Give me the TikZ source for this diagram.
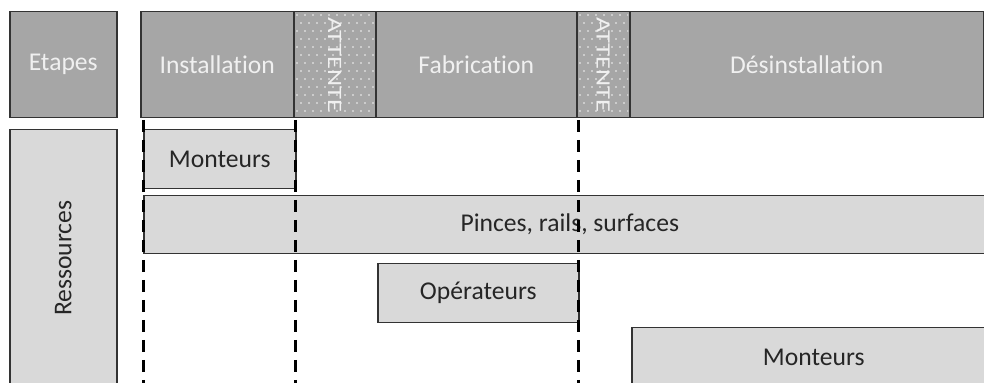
\documentclass[tikz,border=0pt]{standalone}
\usepackage{fontspec}
\setmainfont{Carlito}[Ligatures=NoCommon]
\usepackage{graphicx}
\definecolor{hdrfill}{HTML}{A6A6A6}
\definecolor{resfill}{HTML}{D9D9D9}
\definecolor{hdrtext}{HTML}{F0F0F0}
\definecolor{dotc}{HTML}{F4F4F4}
\definecolor{edge}{HTML}{333333}
\begin{document}
\begin{tikzpicture}[x=0.5pt,y=-0.5pt,
  hdr/.style={draw=edge, line width=0.75pt, fill=hdrfill, text=hdrtext, inner sep=0pt, anchor=north west, font=\fontsize{12.8pt}{15pt}\selectfont},
  res/.style={draw=edge, line width=0.75pt, fill=resfill, text=black!85, inner sep=0pt, anchor=north west, font=\fontsize{12.8pt}{15pt}\selectfont},
  att/.style={text=hdrtext, inner sep=0pt, rotate=-90, font=\fontsize{10.2pt}{12pt}\selectfont},
  guide/.style={line width=1.5pt, dash pattern=on 6pt off 4pt, dash phase=8.5pt}]
\useasboundingbox (0,0) rectangle (984,383);
% header row
\node[hdr, minimum width=53.5pt, minimum height=53pt] (etapes) at (9,11) {Etapes};
\node[hdr, minimum width=76.5pt, minimum height=53pt] (inst) at (140,11) {Installation};
\node[hdr, minimum width=41pt, minimum height=53pt] (att1) at (293,11) {};
\node[hdr, minimum width=100.5pt, minimum height=53pt] (fab) at (375,11) {Fabrication};
\node[hdr, minimum width=26.5pt, minimum height=53pt] (att2) at (576,11) {};
\node[hdr, minimum width=177pt, minimum height=53pt] (desi) at (629,11) {Désinstallation};
% dotted pattern in waiting cells
\begin{scope}
\clip (294,12) rectangle (374,116);
\foreach \r in {0,...,13}{
  \pgfmathsetmacro\off{mod(\r,2)*4}
  \foreach \c in {0,...,10}{
    \fill[dotc] (297+\off+8*\c,15+8*\r) circle[radius=0.45pt];
  }
}
\end{scope}
\begin{scope}
\clip (577,12) rectangle (628,116);
\foreach \r in {0,...,13}{
  \pgfmathsetmacro\off{mod(\r,2)*4}
  \foreach \c in {0,...,7}{
    \fill[dotc] (580+\off+8*\c,15+8*\r) circle[radius=0.45pt];
  }
}
\end{scope}
\node[att] (att1t) at (att1.center) {\scalebox{1.3}[1]{ATTENTE}};
\node[att] (att2t) at (att2.center) {\scalebox{1.3}[1]{ATTENTE}};
% resources
\node[res, minimum width=53.5pt, minimum height=128.5pt] (ress) at (9,129) {};
\node[rotate=90, text=black!85, font=\fontsize{12.8pt}{15pt}\selectfont] (resst) at (ress.center) {Ressources};
\node[res, minimum width=76pt, minimum height=29.5pt] (mont1) at (143,129) {Monteurs};
\node[res, minimum width=426pt, minimum height=29pt] (pinces) at (143,195) {Pinces, rails, surfaces};
\node[res, minimum width=100.5pt, minimum height=29.5pt] (oper) at (377,263) {Opérateurs};
\node[res, minimum width=182pt, minimum height=29.5pt] (mont2) at (631,327) {Monteurs};
% guide lines
\coordinate (g1t) at (143,117); \coordinate (g1b) at (143,390);
\coordinate (g2t) at (295,117); \coordinate (g2b) at (295,390);
\coordinate (g3t) at (578,117); \coordinate (g3b) at (578,390);
\draw[guide] (g1t) -- (g1b);
\draw[guide] (g2t) -- (g2b);
\draw[guide] (g3t) -- (g3b);
\end{tikzpicture}
\end{document}
